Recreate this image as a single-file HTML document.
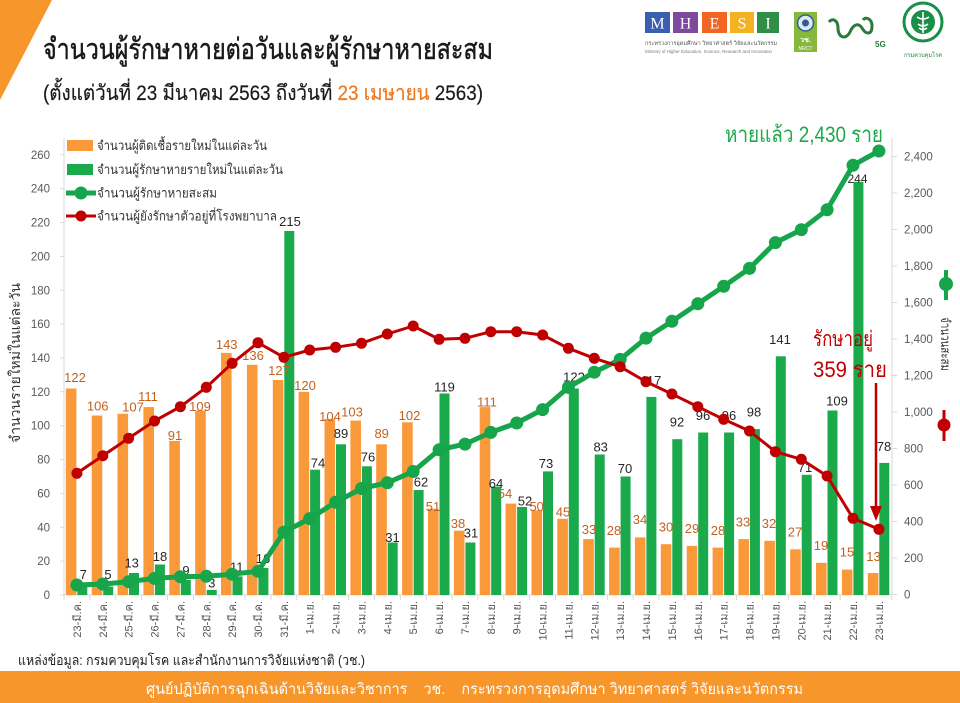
<!DOCTYPE html>
<html><head><meta charset="utf-8">
<style>
html,body{margin:0;padding:0;background:#fff;}
svg{display:block;font-family:"Liberation Sans","DejaVu Sans",sans-serif;}
.tk{font-size:11.5px;fill:#595959;}
.xl{font-size:11px;fill:#555;}
.ol{font-size:13px;fill:#c5601f;text-anchor:middle;}
.gl{font-size:13px;fill:#262626;text-anchor:middle;}
.lg{font-size:13px;fill:#333;}
</style></head>
<body>
<svg width="960" height="703" viewBox="0 0 960 703" xmlns="http://www.w3.org/2000/svg">
<rect width="960" height="703" fill="#fff"/>
<polygon points="0,0 52,0 0,100" fill="#f7962b"/>

<!-- Title -->
<text x="43" y="59" font-size="29" fill="#1a1a1a" stroke="#1a1a1a" stroke-width="0.5" textLength="450" lengthAdjust="spacingAndGlyphs">จำนวนผู้รักษาหายต่อวันและผู้รักษาหายสะสม</text>
<text x="43" y="100" font-size="21" fill="#1a1a1a" stroke="#1a1a1a" stroke-width="0.2" textLength="440" lengthAdjust="spacingAndGlyphs">(ตั้งแต่วันที่ 23 มีนาคม 2563 ถึงวันที่ <tspan fill="#f07820" stroke="#f07820">23 เมษายน</tspan> 2563)</text>

<!-- Logos -->
<g font-family="Liberation Serif, serif" font-size="16" fill="#fff" text-anchor="middle">
<rect x="645" y="12" width="25" height="21" fill="#3a5fae"/><text x="657.5" y="28.5">M</text>
<rect x="673" y="12" width="25" height="21" fill="#7d4a9e"/><text x="685.5" y="28.5">H</text>
<rect x="702" y="12" width="25" height="21" fill="#f26522"/><text x="714.5" y="28.5">E</text>
<rect x="730" y="12" width="24" height="21" fill="#f4b223"/><text x="742" y="28.5">S</text>
<rect x="757" y="12" width="22" height="21" fill="#2f8f46"/><text x="768" y="28.5">I</text>
</g>
<text x="645" y="45" font-size="5.5" fill="#555" textLength="132" lengthAdjust="spacingAndGlyphs">กระทรวงการอุดมศึกษา วิทยาศาสตร์ วิจัยและนวัตกรรม</text>
<text x="645" y="53" font-size="4.5" fill="#777" textLength="127" lengthAdjust="spacingAndGlyphs">Ministry of Higher Education, Science, Research and Innovation</text>
<rect x="794" y="12" width="23" height="40" fill="#86b83b"/>
<circle cx="805.5" cy="23" r="8" fill="#dfe8f0" stroke="#2c5d9a" stroke-width="1.5"/>
<circle cx="805.5" cy="23" r="3.5" fill="#2c5d9a"/>
<text x="805.5" y="42" font-size="7" fill="#fff" text-anchor="middle" font-weight="bold">วช.</text>
<text x="805.5" y="50" font-size="5" fill="#fff" text-anchor="middle">NRCT</text>
<path d="M829,22 C833,17 838,21 838,28 C838,38 846,40 850,32 C853,25 858,22 862,28 C866,35 872,35 872,26 C872,19 866,16 863,20" fill="none" stroke="#2b7a3a" stroke-width="3"/>
<text x="875" y="47" font-size="8" fill="#2b7a3a" font-weight="bold">5G</text>
<circle cx="923" cy="22" r="19" fill="#fff" stroke="#1a8f4a" stroke-width="3"/>
<circle cx="923" cy="22" r="12" fill="#1a8f4a"/>
<path d="M923,12 L923,33 M917,17 Q923,21 929,17 M918,24 Q923,28 928,24 M919,28 Q923,31 927,28" stroke="#fff" stroke-width="1.6" fill="none"/>
<text x="923" y="57" font-size="6" fill="#1a8f4a" text-anchor="middle" textLength="38" lengthAdjust="spacingAndGlyphs">กรมควบคุมโรค</text>

<!-- Axes -->
<g stroke="#d9d9d9" stroke-width="1">
<line x1="64" y1="138" x2="64" y2="595"/>
<line x1="892" y1="138" x2="892" y2="595"/>
<line x1="64" y1="595" x2="892" y2="595"/>
<path d="M60,595H64M60,561.1H64M60,527.3H64M60,493.4H64M60,459.6H64M60,425.7H64M60,391.8H64M60,358H64M60,324.1H64M60,290.3H64M60,256.4H64M60,222.5H64M60,188.7H64M60,154.8H64"/>
<path d="M892,594.5H897M892,558H897M892,521.5H897M892,485H897M892,448.5H897M892,412H897M892,375.5H897M892,339H897M892,302.5H897M892,266H897M892,229.5H897M892,193H897M892,156.5H897"/>
<path d="M64,595V600M89.9,595V600M115.7,595V600M141.6,595V600M167.5,595V600M193.4,595V600M219.2,595V600M245.1,595V600M271,595V600M296.8,595V600M322.7,595V600M348.6,595V600M374.4,595V600M400.3,595V600M426.2,595V600M452.1,595V600M477.9,595V600M503.8,595V600M529.7,595V600M555.5,595V600M581.4,595V600M607.3,595V600M633.1,595V600M659,595V600M684.9,595V600M710.8,595V600M736.6,595V600M762.5,595V600M788.4,595V600M814.2,595V600M840.1,595V600M866,595V600M891.8,595V600"/>
</g>
<g class="tk" text-anchor="end">
<text x="50" y="599">0</text><text x="50" y="565.1">20</text><text x="50" y="531.3">40</text><text x="50" y="497.4">60</text><text x="50" y="463.6">80</text><text x="50" y="429.7">100</text><text x="50" y="395.8">120</text><text x="50" y="362">140</text><text x="50" y="328.1">160</text><text x="50" y="294.3">180</text><text x="50" y="260.4">200</text><text x="50" y="226.5">220</text><text x="50" y="192.7">240</text><text x="50" y="158.8">260</text>
</g>
<g class="tk">
<text x="904" y="598.5">0</text><text x="904" y="562">200</text><text x="904" y="525.5">400</text><text x="904" y="489">600</text><text x="904" y="452.5">800</text><text x="904" y="416">1,000</text><text x="904" y="379.5">1,200</text><text x="904" y="343">1,400</text><text x="904" y="306.5">1,600</text><text x="904" y="270">1,800</text><text x="904" y="233.5">2,000</text><text x="904" y="197">2,200</text><text x="904" y="160.5">2,400</text>
</g>
<text transform="translate(20,363) rotate(-90)" font-size="14" fill="#333" text-anchor="middle" textLength="160" lengthAdjust="spacingAndGlyphs">จำนวนรายใหม่ในแต่ละวัน</text>
<text transform="translate(941,344) rotate(90)" font-size="13" fill="#333" text-anchor="middle" textLength="54" lengthAdjust="spacingAndGlyphs">จำนวนสะสม</text>
<line x1="946" y1="270" x2="946" y2="300" stroke="#16a54a" stroke-width="4"/><circle cx="946" cy="284" r="7" fill="#16a54a"/>
<line x1="944" y1="410" x2="944" y2="441" stroke="#c00000" stroke-width="3"/><circle cx="944" cy="425" r="6.5" fill="#c00000"/>

<!-- x labels -->
<g class="xl" text-anchor="end">
<text transform="translate(80.9,601) rotate(-90)">23-มี.ค.</text>
<text transform="translate(106.8,601) rotate(-90)">24-มี.ค.</text>
<text transform="translate(132.6,601) rotate(-90)">25-มี.ค.</text>
<text transform="translate(158.5,601) rotate(-90)">26-มี.ค.</text>
<text transform="translate(184.4,601) rotate(-90)">27-มี.ค.</text>
<text transform="translate(210.3,601) rotate(-90)">28-มี.ค.</text>
<text transform="translate(236.1,601) rotate(-90)">29-มี.ค.</text>
<text transform="translate(262,601) rotate(-90)">30-มี.ค.</text>
<text transform="translate(287.9,601) rotate(-90)">31-มี.ค.</text>
<text transform="translate(313.7,601) rotate(-90)">1-เม.ย.</text>
<text transform="translate(339.6,601) rotate(-90)">2-เม.ย.</text>
<text transform="translate(365.5,601) rotate(-90)">3-เม.ย.</text>
<text transform="translate(391.3,601) rotate(-90)">4-เม.ย.</text>
<text transform="translate(417.2,601) rotate(-90)">5-เม.ย.</text>
<text transform="translate(443.1,601) rotate(-90)">6-เม.ย.</text>
<text transform="translate(469,601) rotate(-90)">7-เม.ย.</text>
<text transform="translate(494.8,601) rotate(-90)">8-เม.ย.</text>
<text transform="translate(520.7,601) rotate(-90)">9-เม.ย.</text>
<text transform="translate(546.6,601) rotate(-90)">10-เม.ย.</text>
<text transform="translate(572.4,601) rotate(-90)">11-เม.ย.</text>
<text transform="translate(598.3,601) rotate(-90)">12-เม.ย.</text>
<text transform="translate(624.2,601) rotate(-90)">13-เม.ย.</text>
<text transform="translate(650,601) rotate(-90)">14-เม.ย.</text>
<text transform="translate(675.9,601) rotate(-90)">15-เม.ย.</text>
<text transform="translate(701.8,601) rotate(-90)">16-เม.ย.</text>
<text transform="translate(727.7,601) rotate(-90)">17-เม.ย.</text>
<text transform="translate(753.5,601) rotate(-90)">18-เม.ย.</text>
<text transform="translate(779.4,601) rotate(-90)">19-เม.ย.</text>
<text transform="translate(805.3,601) rotate(-90)">20-เม.ย.</text>
<text transform="translate(831.1,601) rotate(-90)">21-เม.ย.</text>
<text transform="translate(857,601) rotate(-90)">22-เม.ย.</text>
<text transform="translate(882.9,601) rotate(-90)">23-เม.ย.</text>
</g>

<!-- Orange bars -->
<g fill="#f9993a">
<rect x="65.8" y="388.5" width="10.6" height="206.5"/>
<rect x="91.7" y="415.5" width="10.6" height="179.5"/>
<rect x="117.5" y="413.8" width="10.6" height="181.2"/>
<rect x="143.4" y="407.1" width="10.6" height="187.9"/>
<rect x="169.3" y="440.9" width="10.6" height="154.1"/>
<rect x="195.2" y="410.5" width="10.6" height="184.5"/>
<rect x="221" y="352.9" width="10.6" height="242.1"/>
<rect x="246.9" y="364.8" width="10.6" height="230.2"/>
<rect x="272.8" y="380" width="10.6" height="215"/>
<rect x="298.6" y="391.8" width="10.6" height="203.2"/>
<rect x="324.5" y="418.9" width="10.6" height="176.1"/>
<rect x="350.4" y="420.6" width="10.6" height="174.4"/>
<rect x="376.2" y="444.3" width="10.6" height="150.7"/>
<rect x="402.1" y="422.3" width="10.6" height="172.7"/>
<rect x="428" y="508.7" width="10.6" height="86.3"/>
<rect x="453.9" y="530.7" width="10.6" height="64.3"/>
<rect x="479.7" y="407.1" width="10.6" height="187.9"/>
<rect x="505.6" y="503.6" width="10.6" height="91.4"/>
<rect x="531.5" y="510.3" width="10.6" height="84.7"/>
<rect x="557.3" y="518.8" width="10.6" height="76.2"/>
<rect x="583.2" y="539.1" width="10.6" height="55.9"/>
<rect x="609.1" y="547.6" width="10.6" height="47.4"/>
<rect x="634.9" y="537.4" width="10.6" height="57.6"/>
<rect x="660.8" y="544.2" width="10.6" height="50.8"/>
<rect x="686.7" y="545.9" width="10.6" height="49.1"/>
<rect x="712.6" y="547.6" width="10.6" height="47.4"/>
<rect x="738.4" y="539.1" width="10.6" height="55.9"/>
<rect x="764.3" y="540.8" width="10.6" height="54.2"/>
<rect x="790.2" y="549.3" width="10.6" height="45.7"/>
<rect x="816" y="562.8" width="10.6" height="32.2"/>
<rect x="841.9" y="569.6" width="10.6" height="25.4"/>
<rect x="867.8" y="573" width="10.6" height="22"/>
</g>
<!-- Green bars -->
<g fill="#1aaa4c">
<rect x="77.3" y="583.1" width="10" height="11.9"/>
<rect x="103.2" y="586.5" width="10" height="8.5"/>
<rect x="129" y="573" width="10" height="22"/>
<rect x="154.9" y="564.5" width="10" height="30.5"/>
<rect x="180.8" y="579.8" width="10" height="15.2"/>
<rect x="206.7" y="589.9" width="10" height="5.1"/>
<rect x="232.5" y="576.4" width="10" height="18.6"/>
<rect x="258.4" y="567.9" width="10" height="27.1"/>
<rect x="284.3" y="231" width="10" height="364"/>
<rect x="310.1" y="469.7" width="10" height="125.3"/>
<rect x="336" y="444.3" width="10" height="150.7"/>
<rect x="361.9" y="466.3" width="10" height="128.7"/>
<rect x="387.7" y="542.5" width="10" height="52.5"/>
<rect x="413.6" y="490" width="10" height="105"/>
<rect x="439.5" y="393.5" width="10" height="201.5"/>
<rect x="465.4" y="542.5" width="10" height="52.5"/>
<rect x="491.2" y="486.6" width="10" height="108.4"/>
<rect x="517.1" y="507" width="10" height="88"/>
<rect x="543" y="471.4" width="10" height="123.6"/>
<rect x="568.8" y="388.5" width="10" height="206.5"/>
<rect x="594.7" y="454.5" width="10" height="140.5"/>
<rect x="620.6" y="476.5" width="10" height="118.5"/>
<rect x="646.4" y="396.9" width="10" height="198.1"/>
<rect x="672.3" y="439.2" width="10" height="155.8"/>
<rect x="698.2" y="432.5" width="10" height="162.5"/>
<rect x="724.1" y="432.5" width="10" height="162.5"/>
<rect x="749.9" y="429.1" width="10" height="165.9"/>
<rect x="775.8" y="356.3" width="10" height="238.7"/>
<rect x="801.7" y="474.8" width="10" height="120.2"/>
<rect x="827.5" y="410.5" width="10" height="184.5"/>
<rect x="853.4" y="181.9" width="10" height="413.1"/>
<rect x="879.3" y="462.9" width="10" height="132.1"/>
</g>

<!-- Orange labels -->
<g class="ol">
<text x="75" y="382">122</text><text x="97.7" y="410.5">106</text><text x="133" y="411.5">107</text><text x="148" y="401">111</text><text x="175" y="440">91</text><text x="200" y="411">109</text><text x="226.7" y="349">143</text><text x="253" y="360">136</text><text x="279" y="375">127</text><text x="305" y="390">120</text><text x="330" y="421">104</text><text x="352" y="416.5">103</text><text x="381.7" y="438">89</text><text x="409.5" y="420">102</text><text x="433" y="511">51</text><text x="458" y="528">38</text><text x="487" y="406.5">111</text><text x="505" y="498">54</text><text x="536.7" y="511">50</text><text x="563" y="516.5">45</text><text x="589" y="534">33</text><text x="614" y="535">28</text><text x="640" y="524">34</text><text x="666" y="531.5">30</text><text x="692" y="533">29</text><text x="718" y="535">28</text><text x="743" y="526.5">33</text><text x="769" y="528">32</text><text x="795" y="536.5">27</text><text x="821" y="550">19</text><text x="847" y="556.5">15</text><text x="873.5" y="561">13</text>
</g>
<!-- Green labels -->
<g class="gl">
<text x="83.3" y="579">7</text><text x="108" y="579">5</text><text x="131.7" y="567.5">13</text><text x="160" y="561">18</text><text x="186" y="575">9</text><text x="211.7" y="587.5">3</text><text x="236.7" y="571.5">11</text><text x="263" y="563">16</text><text x="290" y="226">215</text><text x="318" y="467.5">74</text><text x="341" y="438">89</text><text x="368" y="461.5">76</text><text x="392.5" y="542">31</text><text x="421" y="486.5">62</text><text x="444.5" y="391.5">119</text><text x="471" y="537.5">31</text><text x="496" y="488">64</text><text x="525" y="505.5">52</text><text x="546" y="468">73</text><text x="574" y="381.5">122</text><text x="600.7" y="451.5">83</text><text x="625" y="473">70</text><text x="651" y="385">117</text><text x="677" y="426.5">92</text><text x="703" y="420">96</text><text x="729" y="420">96</text><text x="754" y="416.5">98</text><text x="780" y="344">141</text><text x="805" y="472">71</text><text x="837" y="405.5">109</text><text x="857.5" y="183" font-size="12">244</text><text x="884" y="451">78</text>
</g>

<!-- Green cumulative line -->
<g fill="#16a54a">
<polyline fill="none" stroke="#16a54a" stroke-width="5" stroke-linejoin="round" points="76.9,585 102.8,584.1 128.6,581.7 154.5,578.4 180.4,576.8 206.3,576.3 232.1,574.2 258,571.3 283.9,532.1 309.7,518.6 335.6,502.3 361.5,488.5 387.3,482.8 413.2,471.5 439.1,449.8 465,444.1 490.8,432.4 516.7,423 542.6,409.6 568.4,387.4 594.3,372.2 620.2,359.4 646,338.1 671.9,321.3 697.8,303.8 723.7,286.3 749.5,268.4 775.4,242.6 801.3,229.7 827.1,209.8 853,165.3 878.9,151"/>
<circle cx="76.9" cy="585" r="6.5"/><circle cx="102.8" cy="584.1" r="6.5"/><circle cx="128.6" cy="581.7" r="6.5"/><circle cx="154.5" cy="578.4" r="6.5"/><circle cx="180.4" cy="576.8" r="6.5"/><circle cx="206.3" cy="576.3" r="6.5"/><circle cx="232.1" cy="574.2" r="6.5"/><circle cx="258" cy="571.3" r="6.5"/><circle cx="283.9" cy="532.1" r="6.5"/><circle cx="309.7" cy="518.6" r="6.5"/><circle cx="335.6" cy="502.3" r="6.5"/><circle cx="361.5" cy="488.5" r="6.5"/><circle cx="387.3" cy="482.8" r="6.5"/><circle cx="413.2" cy="471.5" r="6.5"/><circle cx="439.1" cy="449.8" r="6.5"/><circle cx="465" cy="444.1" r="6.5"/><circle cx="490.8" cy="432.4" r="6.5"/><circle cx="516.7" cy="423" r="6.5"/><circle cx="542.6" cy="409.6" r="6.5"/><circle cx="568.4" cy="387.4" r="6.5"/><circle cx="594.3" cy="372.2" r="6.5"/><circle cx="620.2" cy="359.4" r="6.5"/><circle cx="646" cy="338.1" r="6.5"/><circle cx="671.9" cy="321.3" r="6.5"/><circle cx="697.8" cy="303.8" r="6.5"/><circle cx="723.7" cy="286.3" r="6.5"/><circle cx="749.5" cy="268.4" r="6.5"/><circle cx="775.4" cy="242.6" r="6.5"/><circle cx="801.3" cy="229.7" r="6.5"/><circle cx="827.1" cy="209.8" r="6.5"/><circle cx="853" cy="165.3" r="6.5"/><circle cx="878.9" cy="151" r="6.5"/>
</g>
<!-- Red hospitalized line -->
<g fill="#c00000">
<polyline fill="none" stroke="#c00000" stroke-width="3" stroke-linejoin="round" points="76.9,473.3 102.8,455.7 128.6,438.3 154.5,421 180.4,406.7 206.3,387.3 232.1,363.3 258,342.7 283.9,357.3 309.7,350 335.6,347.3 361.5,343.3 387.3,334 413.2,326 439.1,339.3 465,338.3 490.8,331.7 516.7,331.7 542.6,335 568.4,348.3 594.3,358.3 620.2,366.7 646,381.7 671.9,394 697.8,406.7 723.7,419.3 749.5,431 775.4,451.7 801.3,459.3 827.1,476 853,518.3 878.9,529.3"/>
<circle cx="76.9" cy="473.3" r="5.5"/><circle cx="102.8" cy="455.7" r="5.5"/><circle cx="128.6" cy="438.3" r="5.5"/><circle cx="154.5" cy="421" r="5.5"/><circle cx="180.4" cy="406.7" r="5.5"/><circle cx="206.3" cy="387.3" r="5.5"/><circle cx="232.1" cy="363.3" r="5.5"/><circle cx="258" cy="342.7" r="5.5"/><circle cx="283.9" cy="357.3" r="5.5"/><circle cx="309.7" cy="350" r="5.5"/><circle cx="335.6" cy="347.3" r="5.5"/><circle cx="361.5" cy="343.3" r="5.5"/><circle cx="387.3" cy="334" r="5.5"/><circle cx="413.2" cy="326" r="5.5"/><circle cx="439.1" cy="339.3" r="5.5"/><circle cx="465" cy="338.3" r="5.5"/><circle cx="490.8" cy="331.7" r="5.5"/><circle cx="516.7" cy="331.7" r="5.5"/><circle cx="542.6" cy="335" r="5.5"/><circle cx="568.4" cy="348.3" r="5.5"/><circle cx="594.3" cy="358.3" r="5.5"/><circle cx="620.2" cy="366.7" r="5.5"/><circle cx="646" cy="381.7" r="5.5"/><circle cx="671.9" cy="394" r="5.5"/><circle cx="697.8" cy="406.7" r="5.5"/><circle cx="723.7" cy="419.3" r="5.5"/><circle cx="749.5" cy="431" r="5.5"/><circle cx="775.4" cy="451.7" r="5.5"/><circle cx="801.3" cy="459.3" r="5.5"/><circle cx="827.1" cy="476" r="5.5"/><circle cx="853" cy="518.3" r="5.5"/><circle cx="878.9" cy="529.3" r="5.5"/>
</g>

<!-- Legend -->
<rect x="67" y="140" width="26" height="11" fill="#f9993a"/>
<text class="lg" x="97" y="150" textLength="170" lengthAdjust="spacingAndGlyphs">จำนวนผู้ติดเชื้อรายใหม่ในแต่ละวัน</text>
<rect x="67" y="164" width="26" height="11" fill="#1aaa4c"/>
<text class="lg" x="97" y="174" textLength="186" lengthAdjust="spacingAndGlyphs">จำนวนผู้รักษาหายรายใหม่ในแต่ละวัน</text>
<line x1="66" y1="193" x2="96" y2="193" stroke="#16a54a" stroke-width="5"/><circle cx="81" cy="193" r="6.5" fill="#16a54a"/>
<text class="lg" x="97" y="197.5" textLength="120" lengthAdjust="spacingAndGlyphs">จำนวนผู้รักษาหายสะสม</text>
<line x1="66" y1="216" x2="96" y2="216" stroke="#c00000" stroke-width="3"/><circle cx="81" cy="216" r="5.5" fill="#c00000"/>
<text class="lg" x="97" y="220.5" textLength="180" lengthAdjust="spacingAndGlyphs">จำนวนผู้ยังรักษาตัวอยู่ที่โรงพยาบาล</text>

<!-- Annotations -->
<text x="725" y="142" font-size="22" fill="#1ea84b" textLength="158" lengthAdjust="spacingAndGlyphs">หายแล้ว 2,430 ราย</text>
<text x="813" y="346" font-size="21" fill="#c00000" textLength="60" lengthAdjust="spacingAndGlyphs">รักษาอยู่</text>
<text x="813" y="377" font-size="22" fill="#c00000" textLength="74" lengthAdjust="spacingAndGlyphs">359 ราย</text>
<line x1="876" y1="383" x2="876" y2="508" stroke="#c00000" stroke-width="2.5"/>
<polygon points="870,506 882,506 876,521" fill="#c00000"/>

<!-- Footer -->
<text x="18" y="665" font-size="14" fill="#222" textLength="347" lengthAdjust="spacingAndGlyphs">แหล่งข้อมูล: กรมควบคุมโรค และสำนักงานการวิจัยแห่งชาติ (วช.)</text>
<rect x="0" y="671" width="960" height="32" fill="#f7962b"/>
<text x="146" y="694" font-size="15" fill="#fff" textLength="657" lengthAdjust="spacingAndGlyphs">ศูนย์ปฏิบัติการฉุกเฉินด้านวิจัยและวิชาการ&#160;&#160;&#160;&#160;วช.&#160;&#160;&#160;&#160;กระทรวงการอุดมศึกษา วิทยาศาสตร์ วิจัยและนวัตกรรม</text>
</svg>
</body></html>
